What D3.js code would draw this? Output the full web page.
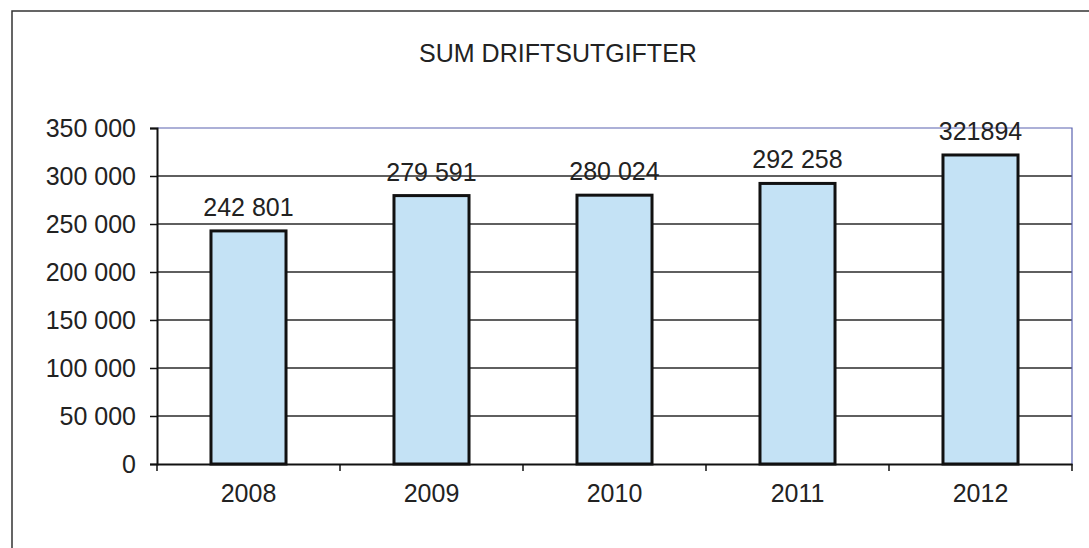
<!DOCTYPE html>
<html>
<head>
<meta charset="utf-8">
<script src="https://cdn.jsdelivr.net/npm/d3@7"></script>
<style>
	body { margin: 0; background: #fff; }
	text { font-family: Arial, "Liberation Sans", sans-serif; fill: #222; }
</style>
</head>
<body>
<script>
const years = ["2008", "2009", "2010", "2011", "2012"];
const values = [242801, 279591, 280024, 292258, 321894];
const valueLabels = ["242 801", "279 591", "280 024", "292 258", "321894"];
const yTicks = [0, 50000, 100000, 150000, 200000, 250000, 300000, 350000];

const svgWidth = 1089;
const svgHeight = 548;
const margin = { top: 128, right: 17, bottom: 84, left: 157 };
const width = svgWidth - margin.left - margin.right;
const height = svgHeight - margin.top - margin.bottom;

const svg = d3
	.select("body")
	.append("svg")
	.attr("width", svgWidth)
	.attr("height", svgHeight);

// outer frame (only top and left show in the scan)
svg
	.append("path")
	.attr("d", `M12,${svgHeight} L12,11 L${svgWidth},11`)
	.attr("fill", "none")
	.attr("stroke", "#333")
	.attr("stroke-width", 1.5);

//title
svg
	.append("text")
	.attr("x", 558)
	.attr("y", 62)
	.attr("text-anchor", "middle")
	.style("font-size", "25px")
	.text("SUM DRIFTSUTGIFTER");

const g = svg
	.append("g")
	.attr("transform", `translate(${margin.left}, ${margin.top})`);

//scales
const xScale = d3.scaleBand().domain(years).range([0, width]).padding(0);
const yScale = d3.scaleLinear().domain([0, 350000]).range([height, 0]);
const fmt = (d) => d3.format(",")(d).replace(/,/g, " ");

//gridlines
g.selectAll(".grid")
	.data(yTicks.filter((d) => d > 0 && d < 350000))
	.enter()
	.append("line")
	.attr("class", "grid")
	.attr("x1", 0)
	.attr("x2", width)
	.attr("y1", (d) => yScale(d))
	.attr("y2", (d) => yScale(d))
	.attr("stroke", "#2a2a2a")
	.attr("stroke-width", 1.5);

//plot area border top/right (blue-ish)
g.append("path")
	.attr("d", `M0,${yScale(350000)} H${width} V${height}`)
	.attr("fill", "none")
	.attr("stroke", "#5a63b0")
	.attr("stroke-width", 1.2);

//bars
const barW = xScale.bandwidth() * 0.41;
g.selectAll(".bar")
	.data(values)
	.enter()
	.append("rect")
	.attr("class", "bar")
	.attr("x", (d, i) => xScale(years[i]) + (xScale.bandwidth() - barW) / 2)
	.attr("y", (d) => yScale(d))
	.attr("width", barW)
	.attr("height", (d) => height - yScale(d))
	.attr("fill", "#c4e2f5")
	.attr("stroke", "#111")
	.attr("stroke-width", 3);

//value labels
g.selectAll(".val")
	.data(values)
	.enter()
	.append("text")
	.attr("class", "val")
	.attr("x", (d, i) => xScale(years[i]) + xScale.bandwidth() / 2)
	.attr("y", (d) => yScale(d) - 15)
	.attr("text-anchor", "middle")
	.style("font-size", "25px")
	.text((d, i) => valueLabels[i]);

//y-axis
const yAxis = g
	.append("g")
	.call(d3.axisLeft(yScale).tickValues(yTicks).tickFormat(fmt).tickSize(7).tickPadding(14));
yAxis.select(".domain").attr("stroke", "#111").attr("stroke-width", 2);
yAxis.selectAll(".tick line").attr("stroke", "#111").attr("stroke-width", 1.5);
yAxis.selectAll(".tick text").style("font-size", "25px").attr("fill", "#222").attr("dy", "0.35em");

//x-axis
const xAxis = g
	.append("g")
	.attr("transform", `translate(0, ${height})`)
	.call(d3.axisBottom(xScale).tickSize(0).tickPadding(20));
xAxis.select(".domain").attr("stroke", "#111").attr("stroke-width", 2);
xAxis.selectAll(".tick text").style("font-size", "25px").attr("fill", "#222");

//category boundary ticks
g.selectAll(".xtick")
	.data(years.concat(["end"]))
	.enter()
	.append("line")
	.attr("class", "xtick")
	.attr("x1", (d, i) => i * xScale.step())
	.attr("x2", (d, i) => i * xScale.step())
	.attr("y1", height)
	.attr("y2", height + 7)
	.attr("stroke", "#111")
	.attr("stroke-width", 1.5);
</script>
</body>
</html>
